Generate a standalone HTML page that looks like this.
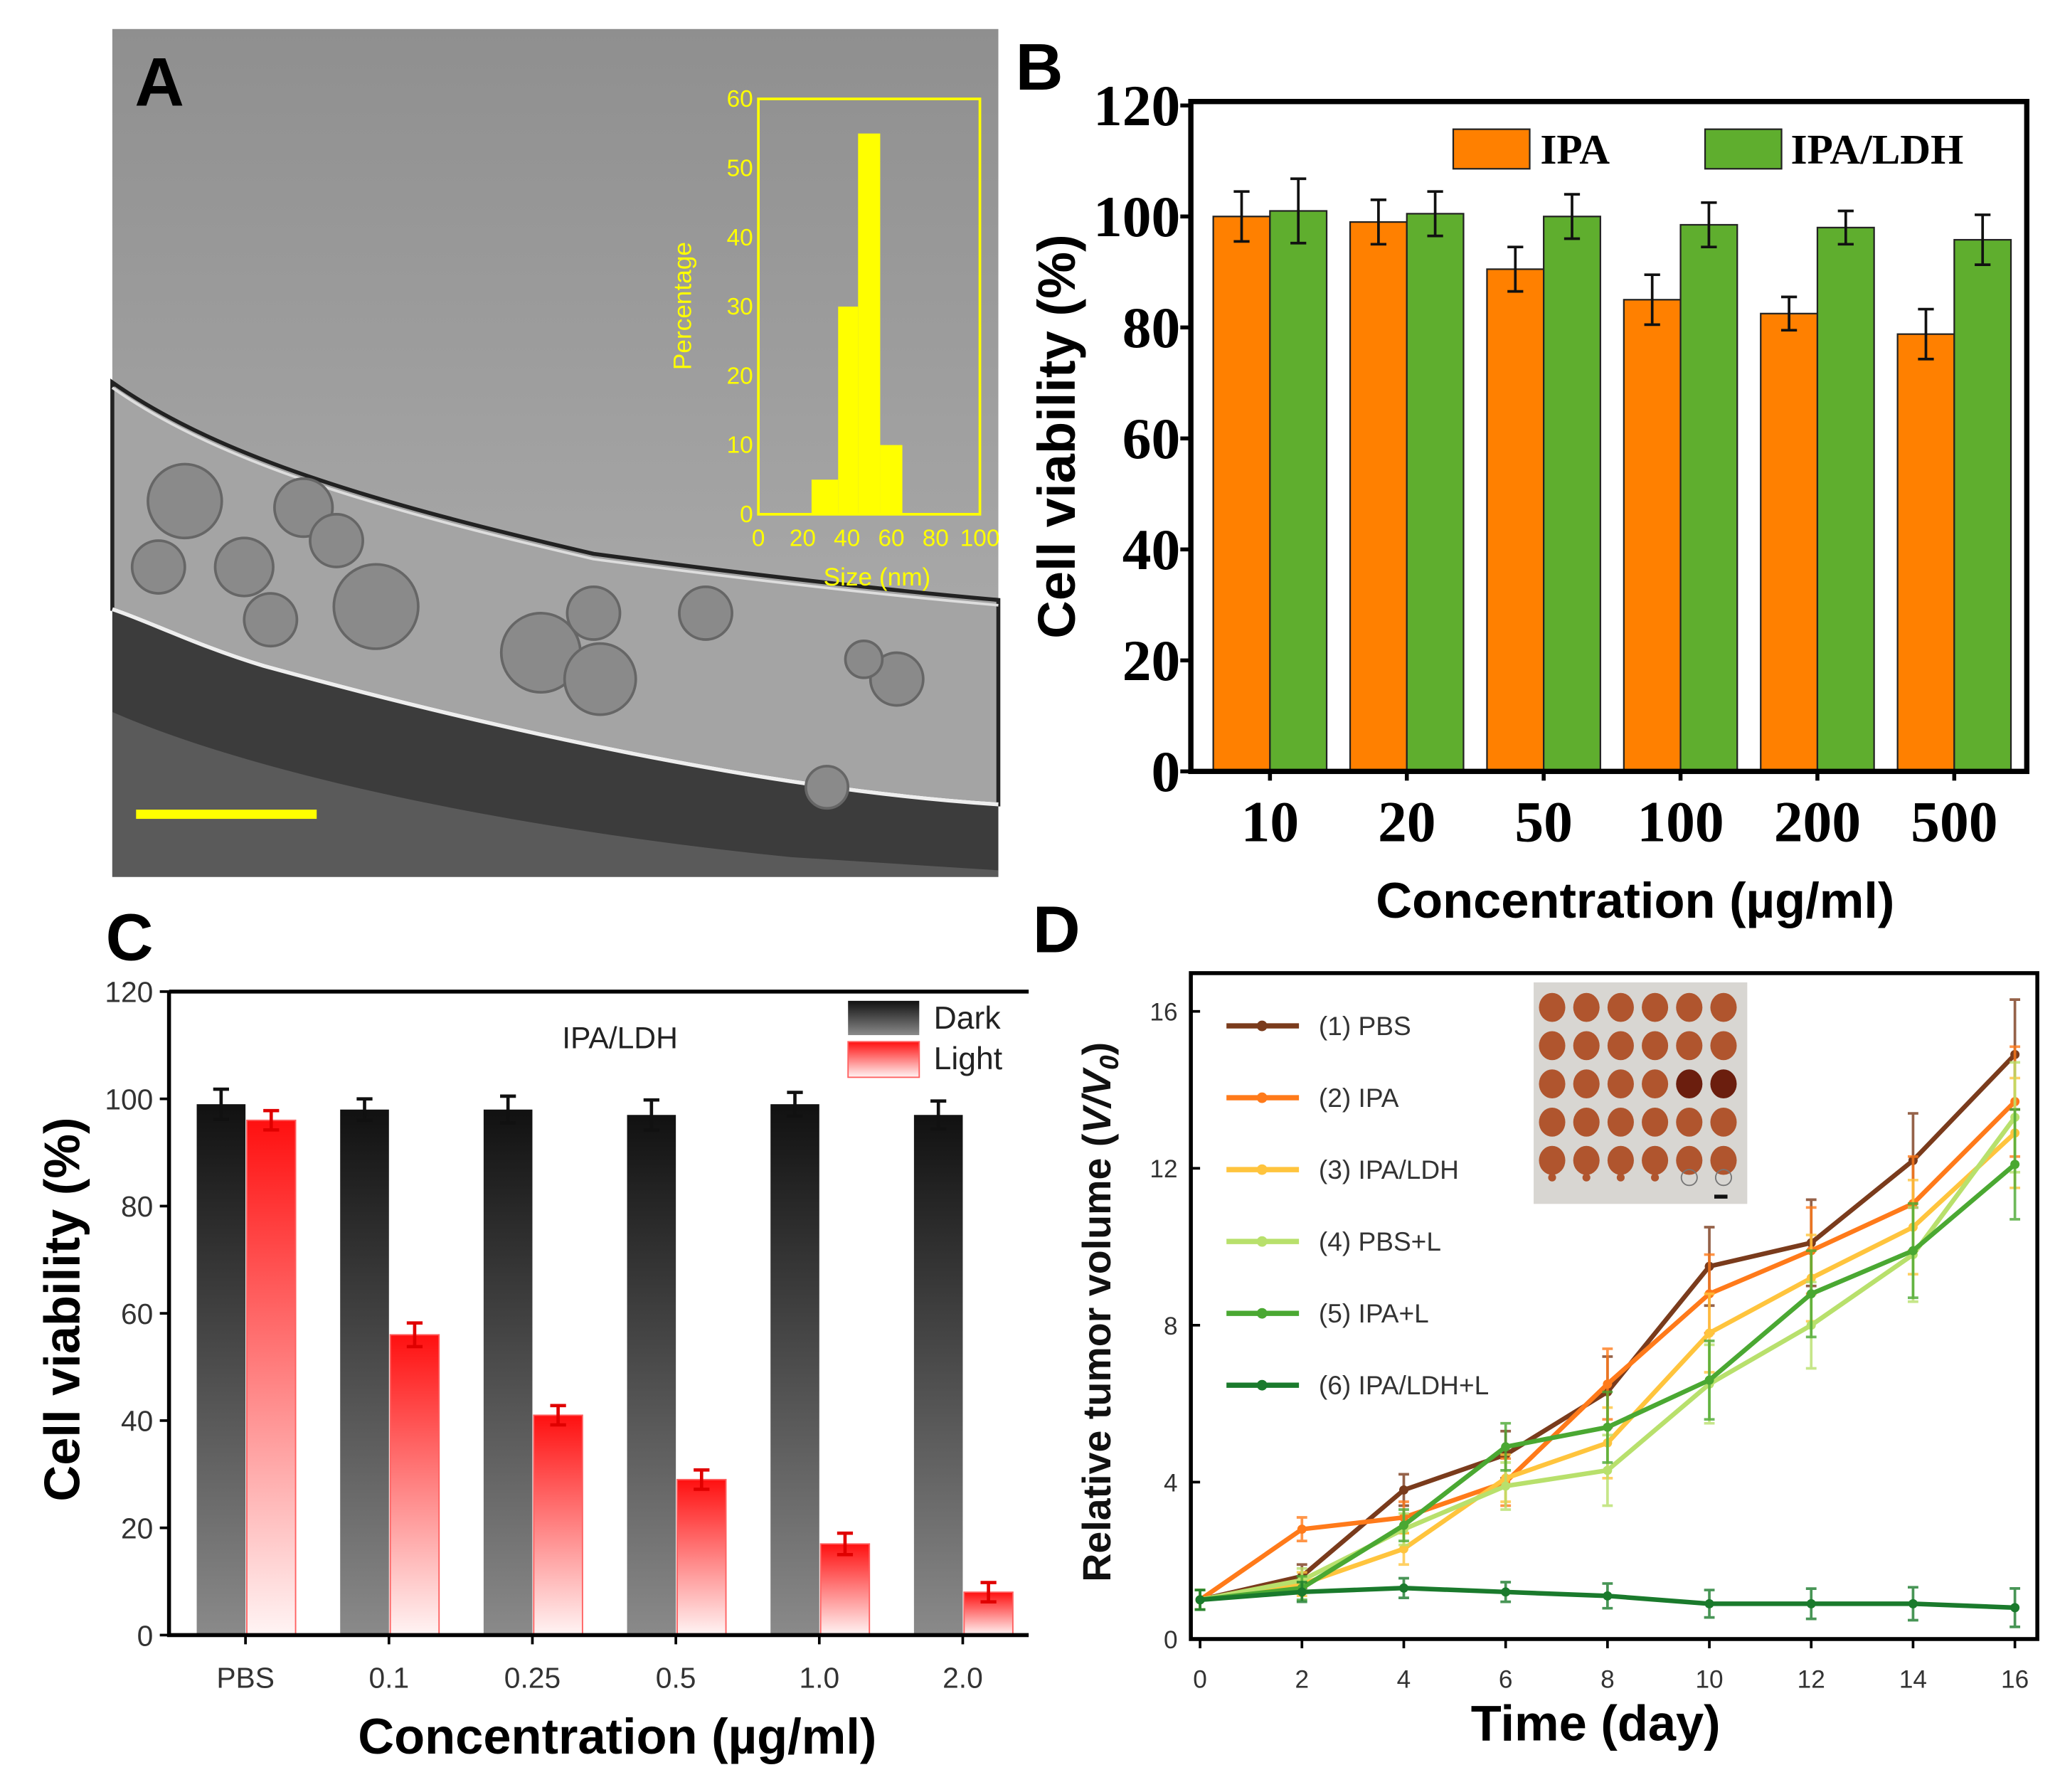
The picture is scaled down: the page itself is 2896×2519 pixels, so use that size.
<!DOCTYPE html>
<html><head><meta charset="utf-8"><style>
html,body{margin:0;padding:0;background:#fff}
svg{display:block}
text{font-family:"Liberation Sans",sans-serif}
.serif{font-family:"Liberation Serif",serif;font-weight:bold}
</style></head><body>
<svg id="fig" width="2896" height="2519" viewBox="0 0 1562 1359" xmlns="http://www.w3.org/2000/svg">
<defs>
<linearGradient id="temTop" x1="0" y1="0" x2="0" y2="1"><stop offset="0" stop-color="#8f8f8f"/><stop offset="1" stop-color="#b3b3b3"/></linearGradient>
<linearGradient id="darkG" x1="0" y1="0" x2="0" y2="1"><stop offset="0" stop-color="#111"/><stop offset="1" stop-color="#8a8a8a"/></linearGradient>
<linearGradient id="lightG" x1="0" y1="0" x2="0" y2="1"><stop offset="0" stop-color="#ff1010"/><stop offset="1" stop-color="#fff4f4"/></linearGradient>
</defs>
<g id="panelA">
<rect x="85" y="22" width="672" height="643" fill="url(#temTop)"/>
<path d="M85,290 C170,350 300,385 450,420 C600,440 700,450 757,455 L757,610 C600,600 400,560 200,505 C150,490 110,470 85,462 Z" fill="#a4a4a4" stroke="#222" stroke-width="3"/>
<path d="M85,294 C170,354 300,389 450,424 C600,444 700,454 757,459" fill="none" stroke="#ddd" stroke-width="2"/>
<path d="M85,462 C110,470 150,490 200,505 C400,560 600,600 757,610 L757,665 L85,665 Z" fill="#3c3c3c"/>
<path d="M85,462 C110,470 150,490 200,505 C400,560 600,600 757,610" fill="none" stroke="#eee" stroke-width="3"/>
<path d="M85,540 C200,590 400,630 600,650 L757,660 L757,665 L85,665 Z" fill="#5a5a5a"/>
<g fill="#8a8a8a" stroke="#666" stroke-width="2">
<circle cx="140" cy="380" r="28"/><circle cx="120" cy="430" r="20"/><circle cx="185" cy="430" r="22"/><circle cx="230" cy="385" r="22"/><circle cx="255" cy="410" r="20"/>
<circle cx="285" cy="460" r="32"/><circle cx="205" cy="470" r="20"/><circle cx="410" cy="495" r="30"/><circle cx="455" cy="515" r="27"/><circle cx="450" cy="465" r="20"/><circle cx="535" cy="465" r="20"/><circle cx="680" cy="515" r="20"/><circle cx="655" cy="500" r="14"/><circle cx="627" cy="597" r="16"/>
</g>
<text x="102" y="80" font-size="52" font-weight="bold">A</text>
<rect x="103" y="614" width="137" height="7" fill="#ffff00"/>
<g id="inset"></g>
</g>
<g id="panelB"></g>
<g id="panelC"></g>
<g id="panelD"></g>
</svg>
<script>
// ---------- data ----------
const histLeft = [24, 36, 45, 55];
const histRight = [36, 45, 55, 65];
const histPct = [5, 30, 55, 10];
const histXTicks = [0, 20, 40, 60, 80, 100];
const histYTicks = [0, 10, 20, 30, 40, 50, 60];

const bCats = ["10", "20", "50", "100", "200", "500"];
const bIPA = [100, 99, 90.5, 85, 82.5, 78.8];
const bIPAerr = [4.5, 4, 4, 4.5, 3, 4.5];
const bLDH = [101, 100.5, 100, 98.5, 98, 95.8];
const bLDHerr = [5.8, 4, 4, 4, 3, 4.5];
const bTicks = [0, 20, 40, 60, 80, 100, 120];

const cCats = ["PBS", "0.1", "0.25", "0.5", "1.0", "2.0"];
const cDark = [99, 98, 98, 97, 99, 97];
const cDarkErr = [2.8, 2, 2.5, 2.8, 2.2, 2.6];
const cLight = [96, 56, 41, 29, 17, 8];
const cLightErr = [1.8, 2.2, 1.8, 1.8, 2, 1.8];
const cTicks = [0, 20, 40, 60, 80, 100, 120];

const dDays = [0, 2, 4, 6, 8, 10, 12, 14, 16];
const dNames = ["(1) PBS", "(2) IPA", "(3) IPA/LDH", "(4) PBS+L", "(5) IPA+L", "(6) IPA/LDH+L"];
const dPBS = [1, 1.6, 3.8, 4.7, 6.3, 9.5, 10.1, 12.2, 14.9];
const dIPA = [1, 2.8, 3.1, 4.0, 6.5, 8.8, 9.9, 11.1, 13.7];
const dIPALDH = [1, 1.4, 2.3, 4.1, 5.0, 7.8, 9.2, 10.5, 12.9];
const dPBSL = [1, 1.5, 2.8, 3.9, 4.3, 6.5, 8.0, 9.8, 13.3];
const dIPAL = [1, 1.3, 2.9, 4.9, 5.4, 6.6, 8.8, 9.9, 12.1];
const dIPALDHL = [1, 1.2, 1.3, 1.2, 1.1, 0.9, 0.9, 0.9, 0.8];
const dErr = [0.2, 0.3, 0.4, 0.6, 0.9, 1.0, 1.1, 1.2, 1.4];
const dYTicks = [0, 4, 8, 12, 16];
const dXTicks = [0, 2, 4, 6, 8, 10, 12, 14, 16];

const NS = "http://www.w3.org/2000/svg";
function mk(parent, tag, attrs, txt) {
  const e = document.createElementNS(NS, tag);
  for (const k in attrs) e.setAttribute(k, attrs[k]);
  if (txt !== undefined) e.textContent = txt;
  parent.appendChild(e);
  return e;
}

// ---------- inset histogram ----------
(function () {
  const g = document.getElementById("inset");
  const L = 575, R = 743, T = 75, B = 390;
  const x = v => L + (v / 100) * (R - L);
  const y = v => B - (v / 60) * (B - T);
  const fr = mk(g, "rect", {x: L, y: T, width: R - L, height: B - T, fill: "none", stroke: "#ffff00", "stroke-width": 2});
  
  
  histPct.forEach((p, i) => {
    const r = mk(g, "rect", {x: x(histLeft[i]), y: y(p), width: x(histRight[i]) - x(histLeft[i]), height: B - y(p), fill: "#ffff00"});
    
    
  });
  histYTicks.forEach(v => {
    const t = mk(g, "text", {x: L - 4, y: y(v) + 6, "text-anchor": "end", "font-size": 18, fill: "#ffff00"}, v);
    
    
  });
  histXTicks.forEach(v => {
    const t = mk(g, "text", {x: x(v), y: B + 24, "text-anchor": "middle", "font-size": 18, fill: "#ffff00"}, v);
    
    
  });
  const yt = mk(g, "text", {x: 524, y: 232, "text-anchor": "middle", "font-size": 19, fill: "#ffff00", transform: "rotate(-90 524 232)"}, "Percentage");
  
  
  const xt = mk(g, "text", {x: 665, y: 444, "text-anchor": "middle", "font-size": 19, fill: "#ffff00"}, "Size (nm)");
  
  
})();

// ---------- panel B ----------
(function () {
  const g = document.getElementById("panelB");
  const L = 903, R = 1537, T = 77, B = 585;
  const y = v => B - (v / 120) * (B - 80);
  const cx = i => 963 + i * 103.8;
  const bw = 43;
  mk(g, "text", {x: 770, y: 68, "font-size": 50, "font-weight": "bold"}, "B");
  bCats.forEach((c, i) => {
    [[bIPA, bIPAerr, "#ff8000", -bw], [bLDH, bLDHerr, "#5fae2e", 0]].forEach(([vals, errs, col, off], s) => {
      const r = mk(g, "rect", {x: cx(i) + off, y: y(vals[i]), width: bw, height: B - y(vals[i]), fill: col, stroke: "#222", "stroke-width": 1.2});
      
      
      const ex = cx(i) + off + bw / 2;
      const e = mk(g, "path", {d: `M${ex},${y(vals[i] + errs[i])}V${y(vals[i] - errs[i])}M${ex - 6},${y(vals[i] + errs[i])}h12M${ex - 6},${y(vals[i] - errs[i])}h12`, stroke: "#111", "stroke-width": 2, fill: "none"});
      
      
    });
    const t = mk(g, "text", {x: cx(i), y: 638, "text-anchor": "middle", "font-size": 44, class: "serif"}, c);
    
    
    mk(g, "line", {x1: cx(i), x2: cx(i), y1: B, y2: B + 7, stroke: "#000", "stroke-width": 3});
  });
  const fr = mk(g, "rect", {x: L, y: T, width: R - L, height: B - T, fill: "none", stroke: "#000", "stroke-width": 4});
  
  
  bTicks.forEach(v => {
    mk(g, "line", {x1: L - 8, x2: L, y1: y(v), y2: y(v), stroke: "#000", "stroke-width": 3});
    const t = mk(g, "text", {x: L - 8, y: y(v) + 15, "text-anchor": "end", "font-size": 44, class: "serif"}, v);
    
    
  });
  mk(g, "rect", {x: 1102, y: 98, width: 58, height: 30, fill: "#ff8000", stroke: "#222", "stroke-width": 1.2});
  mk(g, "text", {x: 1168, y: 124, "font-size": 32, class: "serif"}, "IPA");
  mk(g, "rect", {x: 1293, y: 98, width: 58, height: 30, fill: "#5fae2e", stroke: "#222", "stroke-width": 1.2});
  mk(g, "text", {x: 1358, y: 124, "font-size": 32, class: "serif"}, "IPA/LDH");
  const yt = mk(g, "text", {x: 815, y: 331, "text-anchor": "middle", "font-size": 40, "font-weight": "bold", transform: "rotate(-90 815 331)"}, "Cell viability (%)");
  
  
  const xt = mk(g, "text", {x: 1240, y: 696, "text-anchor": "middle", "font-size": 38, "font-weight": "bold"}, "Concentration (\u00b5g/ml)");
  
  
})();

// ---------- panel C ----------
(function () {
  const g = document.getElementById("panelC");
  const L = 128, R = 780, T = 752, B = 1240;
  const y = v => B - (v / 120) * (B - T);
  const cx = i => 186 + i * 108.8;
  const bw = 37;
  mk(g, "text", {x: 80, y: 728, "font-size": 50, "font-weight": "bold"}, "C");
  cCats.forEach((c, i) => {
    [[cDark, cDarkErr, "url(#darkG)", -bw, "#333"], [cLight, cLightErr, "url(#lightG)", 1, "#ff3030"]].forEach(([vals, errs, col, off, ec], s) => {
      const r = mk(g, "rect", {x: cx(i) + off, y: y(vals[i]), width: bw, height: B - y(vals[i]), fill: col, stroke: s ? "#ff6060" : "none", "stroke-width": 1});
      
      
      const ex = cx(i) + off + bw / 2;
      const e = mk(g, "path", {d: `M${ex},${y(vals[i] + errs[i])}V${y(vals[i] - errs[i])}M${ex - 6},${y(vals[i] + errs[i])}h12M${ex - 6},${y(vals[i] - errs[i])}h12`, stroke: s ? "#e00000" : "#111", "stroke-width": 2.5, fill: "none"});
      
      
    });
    mk(g, "line", {x1: cx(i), x2: cx(i), y1: B, y2: B + 7, stroke: "#000", "stroke-width": 2});
    const t = mk(g, "text", {x: cx(i), y: 1280, "text-anchor": "middle", "font-size": 22, fill: "#333"}, c);
    
    
  });
  mk(g, "path", {d: `M${L},${T}H${R}M${L},${T}V${B}H${R}`, stroke: "#000", "stroke-width": 3, fill: "none"});
  cTicks.forEach(v => {
    mk(g, "line", {x1: L - 7, x2: L, y1: y(v), y2: y(v), stroke: "#000", "stroke-width": 2});
    const t = mk(g, "text", {x: L - 12, y: y(v) + 8, "text-anchor": "end", "font-size": 22, fill: "#333"}, v);
    
    
  });
  mk(g, "text", {x: 470, y: 795, "text-anchor": "middle", "font-size": 23, fill: "#222"}, "IPA/LDH");
  mk(g, "rect", {x: 643, y: 759, width: 54, height: 26, fill: "url(#darkG)"});
  mk(g, "text", {x: 708, y: 780, "font-size": 24, fill: "#222"}, "Dark");
  mk(g, "rect", {x: 643, y: 790, width: 54, height: 27, fill: "url(#lightG)", stroke: "#ff6060", "stroke-width": 1});
  mk(g, "text", {x: 708, y: 811, "font-size": 24, fill: "#222"}, "Light");
  const yt = mk(g, "text", {x: 60, y: 993, "text-anchor": "middle", "font-size": 38, "font-weight": "bold", transform: "rotate(-90 60 993)"}, "Cell viability (%)");
  
  
  const xt = mk(g, "text", {x: 468, y: 1330, "text-anchor": "middle", "font-size": 38, "font-weight": "bold"}, "Concentration (\u00b5g/ml)");
  
  
})();

// ---------- panel D ----------
(function () {
  const g = document.getElementById("panelD");
  const L = 903, R = 1545, T = 738, B = 1243;
  const x = d => 910 + d * (1528 - 910) / 16;
  const y = v => B - v * (B - 767) / 16;
  mk(g, "text", {x: 783, y: 722, "font-size": 50, "font-weight": "bold"}, "D");
  mk(g, "rect", {x: L, y: T, width: R - L, height: B - T, fill: "none", stroke: "#000", "stroke-width": 3});
  dYTicks.forEach(v => {
    mk(g, "line", {x1: L, x2: L + 7, y1: y(v), y2: y(v), stroke: "#000", "stroke-width": 2});
    const t = mk(g, "text", {x: L - 10, y: y(v) + 7, "text-anchor": "end", "font-size": 19, fill: "#333"}, v);
    
    
  });
  dXTicks.forEach(v => {
    mk(g, "line", {x1: x(v), x2: x(v), y1: B, y2: B + 7, stroke: "#000", "stroke-width": 2});
    const t = mk(g, "text", {x: x(v), y: 1280, "text-anchor": "middle", "font-size": 19, fill: "#333"}, v);
    
    
  });
  const ph = mk(g, "g", {});
  
  
  mk(ph, "rect", {x: 1163, y: 745, width: 162, height: 168, fill: "#d8d6d2"});
  for (let r = 0; r < 5; r++) for (let c = 0; c < 6; c++) {
    mk(ph, "ellipse", {cx: 1177 + c * 26, cy: 764 + r * 29, rx: 10, ry: 11, fill: (r === 2 && c > 3) ? "#6b1e0e" : "#b0552e"});
  }
  for (let c = 0; c < 4; c++) mk(ph, "circle", {cx: 1177 + c * 26, cy: 893, r: 3, fill: "#b0552e"});
  mk(ph, "circle", {cx: 1281, cy: 893, r: 6, fill: "none", stroke: "#777"});
  mk(ph, "circle", {cx: 1307, cy: 893, r: 6, fill: "none", stroke: "#777"});
  mk(ph, "rect", {x: 1300, y: 906, width: 10, height: 3, fill: "#111"});

  const series = [dPBS, dIPA, dIPALDH, dPBSL, dIPAL, dIPALDHL];
  const cols = ["#7a3b1c", "#ff7a1a", "#ffc43d", "#b8e06c", "#4aa832", "#1a7a2c"];
  series.forEach((s, k) => {
    const gs = mk(g, "g", {});
    
    
    s.forEach((v, i) => {
      const e = Math.max(0.25, dErr[i] * (k === 5 ? 0.35 : 1));
      const p = mk(gs, "path", {d: `M${x(dDays[i])},${y(v + e)}V${y(v - e)}M${x(dDays[i]) - 4},${y(v + e)}h8M${x(dDays[i]) - 4},${y(v - e)}h8`, stroke: cols[k], "stroke-width": 2, fill: "none", opacity: 0.8});
      
      
    });
    const line = mk(gs, "polyline", {points: s.map((v, i) => x(dDays[i]) + "," + y(v)).join(" "), fill: "none", stroke: cols[k], "stroke-width": 3.5});
    
    
    s.forEach((v, i) => {
      const m = mk(gs, "circle", {cx: x(dDays[i]), cy: y(v), r: 3.5, fill: cols[k]});
      
      
    });
    const ly = 778 + k * 54.5;
    mk(g, "line", {x1: 930, x2: 985, y1: ly, y2: ly, stroke: cols[k], "stroke-width": 4});
    mk(g, "circle", {cx: 957, cy: ly, r: 4, fill: cols[k]});
    const lt = mk(g, "text", {x: 1000, y: ly + 7, "font-size": 20, fill: "#333"}, dNames[k]);
    
    
  });
  const yt = mk(g, "text", {x: 842, y: 995, "text-anchor": "middle", "font-size": 30, "font-weight": "bold", fill: "#111", transform: "rotate(-90 842 995)"});
  
  
  mk(yt, "tspan", {}, "Relative tumor volume (");
  mk(yt, "tspan", {"font-style": "italic"}, "V/V");
  mk(yt, "tspan", {"font-style": "italic", "font-size": 20, dy: 6}, "0");
  mk(yt, "tspan", {dy: -6}, ")");
  const xt = mk(g, "text", {x: 1210, y: 1320, "text-anchor": "middle", "font-size": 38, "font-weight": "bold"}, "Time (day)");
  
  
})();
</script>
</body></html>
